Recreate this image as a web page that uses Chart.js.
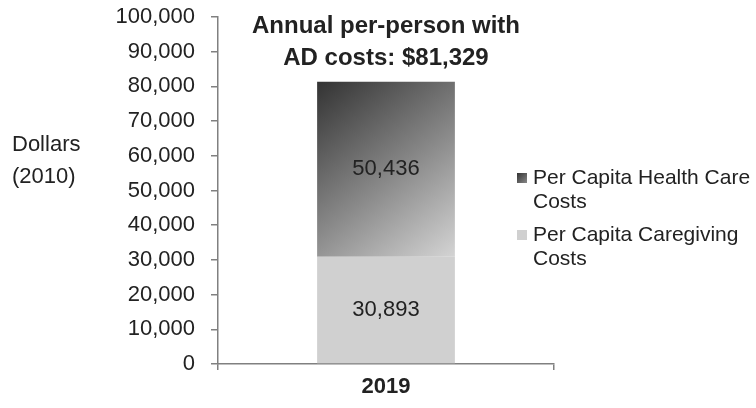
<!DOCTYPE html>
<html lang="en">
<head>
  <meta charset="UTF-8" />
  <title>Annual per-person AD costs</title>
  <script src="https://cdn.jsdelivr.net/npm/chart.js"></script>
  <style>
    html, body { margin: 0; padding: 0; background: #fff; }
    .box { width: 756px; height: 408px; position: relative; }
  </style>
</head>
<body>
  <div class="box">
    <canvas id="grafico" width="756" height="408"></canvas>
  </div>

  <script>
    // dados do grafico
    const categorias = ['2019'];
    const custoCuidado = [30893];
    const custoSaude = [50436];
    const nomesSeries = ['Per Capita Caregiving Costs', 'Per Capita Health Care Costs'];
    const legendaLinhas = [['Per Capita Health Care', 'Costs'], ['Per Capita Caregiving', 'Costs']];
    const tituloLinhas = ['Annual per-person with', 'AD costs: $81,329'];
    const eixoYTitulo = ['Dollars', '(2010)'];
    const yMin = 0, yMax = 100000, yPasso = 10000;

    const fonte = '"Liberation Sans", Arial, sans-serif';
    const corTexto = '#222';

    // gradiente do segmento de saude (escuro em cima a esquerda, claro embaixo a direita)
    function gradienteSaude(ctx) {
      const chart = ctx.chart;
      if (!chart.chartArea || !chart.scales.x) return '#777';
      const xs = chart.scales.x, ys = chart.scales.y;
      const i = ctx.dataIndex || 0;
      const cx = xs.getPixelForValue(i);
      const meia = (xs.width / categorias.length) * 0.41 / 2;
      const topo = ys.getPixelForValue(custoCuidado[i] + custoSaude[i]);
      const base = ys.getPixelForValue(custoCuidado[i]);
      const g = chart.ctx.createLinearGradient(cx - meia, topo, cx + meia, base);
      g.addColorStop(0, '#333333');
      g.addColorStop(0.55, '#8a8a8a');
      g.addColorStop(1, '#d4d4d4');
      return g;
    }

    // textos extras: titulo, eixo Y, rotulos das barras e legenda
    const textosExtras = {
      id: 'textosExtras',
      afterDatasetsDraw(chart) {
        const c = chart.ctx;
        const xs = chart.scales.x;
        c.save();
        c.fillStyle = corTexto;
        c.textBaseline = 'middle';

        // titulo do eixo Y
        c.font = '22px ' + fonte;
        c.textAlign = 'left';
        c.fillText(eixoYTitulo[0], 12, 145);
        c.fillText(eixoYTitulo[1], 12, 177);

        // rotulos dentro das barras
        c.textAlign = 'center';
        chart.data.datasets.forEach((ds, di) => {
          const meta = chart.getDatasetMeta(di);
          meta.data.forEach((el, i) => {
            const yc = (el.y + el.base) / 2;
            c.fillText(ds.data[i].toLocaleString('en-US'), el.x, yc);
          });
        });

        // titulo acima da barra
        const cx = xs.getPixelForValue(0);
        c.font = 'bold 24px ' + fonte;
        c.fillText(tituloLinhas[0], cx, 26);
        c.fillText(tituloLinhas[1], cx, 58);

        // legenda
        c.font = '21px ' + fonte;
        c.textAlign = 'left';
        const lx = 517, tx = 533;
        const ys0 = [178, 235];
        const g1 = c.createLinearGradient(lx, ys0[0] - 5, lx + 10, ys0[0] + 5);
        g1.addColorStop(0, '#333'); g1.addColorStop(1, '#888');
        c.fillStyle = g1;
        c.fillRect(lx, ys0[0] - 5, 10, 10);
        c.fillStyle = '#d0d0d0';
        c.fillRect(lx, ys0[1] - 5, 10, 10);
        c.fillStyle = corTexto;
        legendaLinhas.forEach((linhas, k) => {
          linhas.forEach((t, j) => c.fillText(t, tx, ys0[k] + j * 24));
        });
        c.restore();
      }
    };

    const dados = {
      labels: categorias,
      datasets: [
        {
          label: nomesSeries[0],
          data: custoCuidado,
          backgroundColor: '#d0d0d0',
          borderWidth: 0,
          barPercentage: 0.41,
          categoryPercentage: 1
        },
        {
          label: nomesSeries[1],
          data: custoSaude,
          backgroundColor: gradienteSaude,
          borderWidth: 0,
          barPercentage: 0.41,
          categoryPercentage: 1
        }
      ]
    };

    const config = {
      type: 'bar',
      data: dados,
      plugins: [textosExtras],
      options: {
        responsive: false,
        animation: false,
        layout: { padding: { top: 17, right: 202, left: 0, bottom: 0 } },
        plugins: {
          legend: { display: false },
          tooltip: { enabled: false }
        },
        scales: {
          x: {
            stacked: true,
            grid: { drawOnChartArea: false, tickLength: 6, color: '#808080', lineWidth: 1.5 },
            border: { color: '#808080', width: 1.5 },
            ticks: { color: corTexto, font: { family: fonte, size: 22, weight: 'bold' }, padding: 4 },
            afterFit: s => { s.height = 408 - 364; s.paddingLeft = 0; s.paddingRight = 0; }
          },
          y: {
            stacked: true,
            min: yMin,
            max: yMax,
            grid: { drawOnChartArea: false, tickLength: 7, color: '#808080', lineWidth: 1.5 },
            border: { color: '#808080', width: 1.5 },
            ticks: {
              stepSize: yPasso,
              color: corTexto,
              padding: 16,
              font: { family: fonte, size: 22 },
              callback: v => v.toLocaleString('en-US')
            },
            afterFit: s => { s.width = 218; s.paddingTop = 0; s.paddingBottom = 0; }
          }
        }
      }
    };

    new Chart(document.getElementById('grafico'), config);
  </script>
</body>
</html>
